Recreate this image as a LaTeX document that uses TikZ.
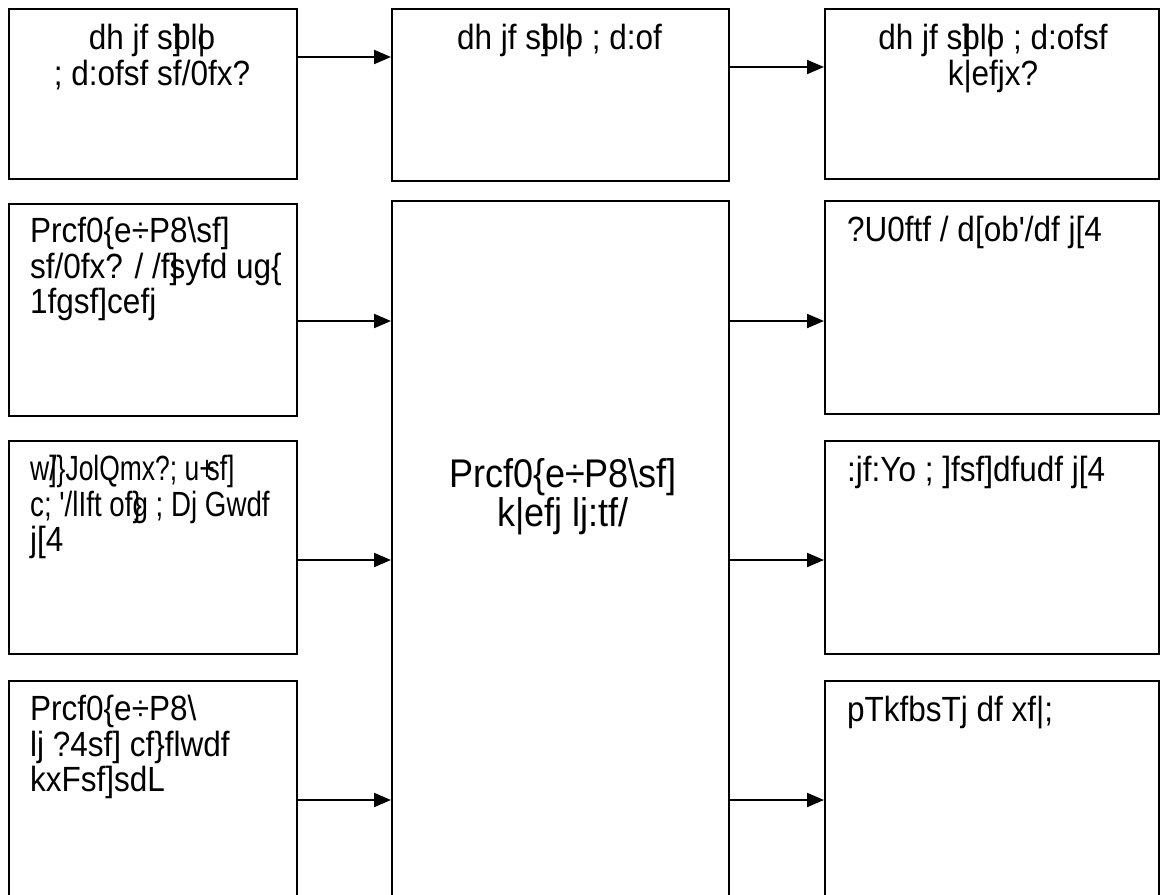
\documentclass[tikz,border=0pt]{standalone}
\usepackage{graphicx}
\usepackage{fontspec}
\newfontfamily\pf{Liberation Sans}[FakeStretch=0.9]
\usetikzlibrary{arrows.meta,calc}
\newcommand\ovl[1]{\makebox[0pt][l]{#1}}
\begin{document}
\begin{tikzpicture}[x=1pt,y=-1pt,
  box/.style={draw, line width=2pt, rectangle, anchor=north west, inner sep=0pt},
  arr/.style={line width=2pt, -{Triangle[length=17pt,width=14pt]}},
  txt/.style={font=\pf\fontsize{35}{35.5}\selectfont, inner sep=0pt},
  ctxt/.style={font=\pf\fontsize{40}{39}\selectfont, inner sep=0pt, align=center}]
\useasboundingbox (0,0) rectangle (1161,894);
\clip (0,0) rectangle (1161,894);
% boxes
\node[box, minimum width=288pt, minimum height=170pt] (b1) at (8,8) {};
\node[box, minimum width=337pt, minimum height=172pt] (b2) at (391,8) {};
\node[box, minimum width=334pt, minimum height=170pt] (b3) at (824,8) {};
\node[box, minimum width=288pt, minimum height=212pt] (l1) at (8,203) {};
\node[box, minimum width=288pt, minimum height=213pt] (l2) at (8,440) {};
\node[box, minimum width=288pt, minimum height=240pt] (l3) at (8,680) {};
\node[box, minimum width=337pt, minimum height=720pt] (c) at (391,200) {};
\node[box, minimum width=334pt, minimum height=213pt] (r1) at (824,200) {};
\node[box, minimum width=334pt, minimum height=213pt] (r2) at (824,440) {};
\node[box, minimum width=334pt, minimum height=240pt] (r3) at (824,680) {};
% texts
\node[txt, align=center, anchor=north] (t1) at (152,24) {dh jf s\ovl{]}bl\ovl{|}o\\; d:ofsf sf/0fx?};
\node[txt, align=center, anchor=north] (t2) at (559.5,24) {dh jf s\ovl{]}bl\ovl{|}o ; d:of};
\node[txt, align=center, anchor=north] (t3) at (993,24) {dh jf s\ovl{]}bl\ovl{|}o ; d:ofsf\\k|efjx?};
\node[txt, align=left, anchor=north west] (tl1) at (30,217) {Prcf0\{e÷P8\textbackslash sf]\\sf/0fx? / /f\ovl{]}syfd ug\{\\1fgsf]cefj};
\node[txt, align=left, anchor=north west] (tl2) at (30,455) {\scalebox{0.84}[1]{w\ovl{]}/\}JolQmx?; u\ovl{+} sf]}\\\scalebox{0.88}[1]{c; '/lIft of\ovl{\}}g ; Dj Gwdf}\\j[4};
\node[txt, align=left, anchor=north west] (tl3) at (30,695) {Prcf0\{e÷P8\textbackslash\\lj ?4sf] cf\}flwdf\\kxFsf]sdL};
\node[txt, align=left, anchor=north west] (tr1) at (847,216) {?U0ftf / d[ob'/df j[4};
\node[txt, align=left, anchor=north west] (tr2) at (847,456) {:jf:Yo ; ]fsf]dfudf j[4};
\node[txt, align=left, anchor=north west] (tr3) at (847,696) {pTkfbsTj df xf|;};
\node[ctxt, anchor=north] (tc) at (563,458) {Prcf0\{e÷P8\textbackslash sf]\\k|efj lj:tf/};
% arrows
\coordinate (a1) at ([yshift=-49pt]b1.north east);
\coordinate (a2) at ([yshift=-59pt]b2.north east);
\coordinate (p1) at ([yshift=-118pt]l1.north east);
\coordinate (p2) at ([yshift=-120pt]l2.north east);
\coordinate (p3) at ([yshift=-120pt]l3.north east);
\draw[arr] (a1) -- (a1 -| b2.west);
\draw[arr] (a2) -- (a2 -| b3.west);
\draw[arr] (p1) -- (p1 -| c.west);
\draw[arr] (p2) -- (p2 -| c.west);
\draw[arr] (p3) -- (p3 -| c.west);
\draw[arr] (p1 -| c.east) -- (p1 -| r1.west);
\draw[arr] (p2 -| c.east) -- (p2 -| r2.west);
\draw[arr] (p3 -| c.east) -- (p3 -| r3.west);
\end{tikzpicture}
\end{document}
